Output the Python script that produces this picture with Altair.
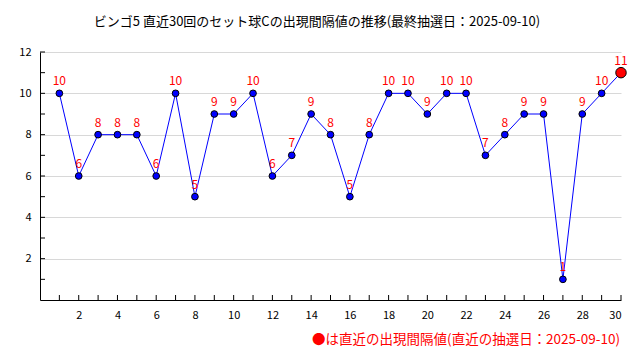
import altair as alt
import pandas as pd

draws = list(range(1, 31))
intervals = [10, 6, 8, 8, 8, 6, 10, 5, 9, 9, 10, 6, 7, 9, 8, 5, 8, 10, 10, 9, 10, 10, 7, 8, 9, 9, 1, 9, 10, 11]
x_label_values = list(range(2, 31, 2))
y_label_values = list(range(2, 13, 2))
x_tick_values = list(range(1, 31))
y_tick_values = list(range(1, 13))

title_text = "ビンゴ5 直近30回のセット球Cの出現間隔値の推移(最終抽選日：2025-09-10)"
note_text = "●は直近の出現間隔値(直近の抽選日：2025-09-10)"

FONT = "Noto Sans CJK JP"
W, H = 581, 248

df = pd.DataFrame({"draw": draws, "value": intervals})
df["latest"] = [i == len(draws) - 1 for i in range(len(draws))]
xt = pd.DataFrame({"t": x_tick_values})
yt = pd.DataFrame({"t": y_tick_values})
one = pd.DataFrame({"a": [0]})

xs = alt.Scale(domain=[0, 30], nice=False, zero=True)
ys = alt.Scale(domain=[0, 12], nice=False, zero=True)

xaxis = alt.Axis(values=x_label_values, title=None, grid=False, tickSize=0, labelPadding=9,
                 domainColor="black", labelColor="black", labelFontSize=11, labelFont=FONT)
yaxis = alt.Axis(values=y_label_values, title=None, grid=True, gridColor="#d8d8d8", tickSize=0,
                 labelPadding=9, domainColor="black", labelColor="black", labelFontSize=11, labelFont=FONT)

base = alt.Chart(df)

line = base.mark_line(color="#0000ff", strokeWidth=1).encode(
    x=alt.X("draw:Q", scale=xs, axis=xaxis),
    y=alt.Y("value:Q", scale=ys, axis=yaxis),
)

pts = base.transform_filter("!datum.latest").mark_point(
    filled=True, fill="#0000ff", stroke="black", strokeWidth=1, size=45, opacity=1
).encode(x=alt.X("draw:Q", scale=xs), y=alt.Y("value:Q", scale=ys))

last = base.transform_filter("datum.latest").mark_point(
    filled=True, fill="#ff0000", stroke="black", strokeWidth=1, size=110, opacity=1
).encode(x=alt.X("draw:Q", scale=xs), y=alt.Y("value:Q", scale=ys))

labels = base.mark_text(color="#ff0000", fontSize=12, font=FONT, baseline="middle", dy=-12).encode(
    x=alt.X("draw:Q", scale=xs), y=alt.Y("value:Q", scale=ys), text="value:Q"
)

xticks = alt.Chart(xt).mark_rule(color="black", strokeWidth=1).encode(
    x=alt.X("t:Q", scale=xs), y=alt.value(H), y2=alt.value(H - 5)
)
yticks = alt.Chart(yt).mark_rule(color="black", strokeWidth=1).encode(
    y=alt.Y("t:Q", scale=ys), x=alt.value(0), x2=alt.value(5)
)

title = alt.Chart(one).mark_text(fontSize=13, font=FONT, color="black", align="center", baseline="middle").encode(
    x=alt.value(277), y=alt.value(-30), text=alt.value(title_text)
)
note = alt.Chart(one).mark_text(fontSize=13.5, font=FONT, color="#ff0000", align="right", baseline="middle").encode(
    x=alt.value(580), y=alt.value(288), text=alt.value(note_text)
)

chart = alt.layer(line, xticks, yticks, pts, last, labels, title, note).properties(
    width=W, height=H,
    autosize=alt.AutoSizeParams(type="none"),
    padding={"left": 32, "top": 44, "right": 11, "bottom": 52},
    background="white",
).configure_view(stroke=None)

chart.save("out.html", embed_options={"renderer": "svg", "actions": False})
